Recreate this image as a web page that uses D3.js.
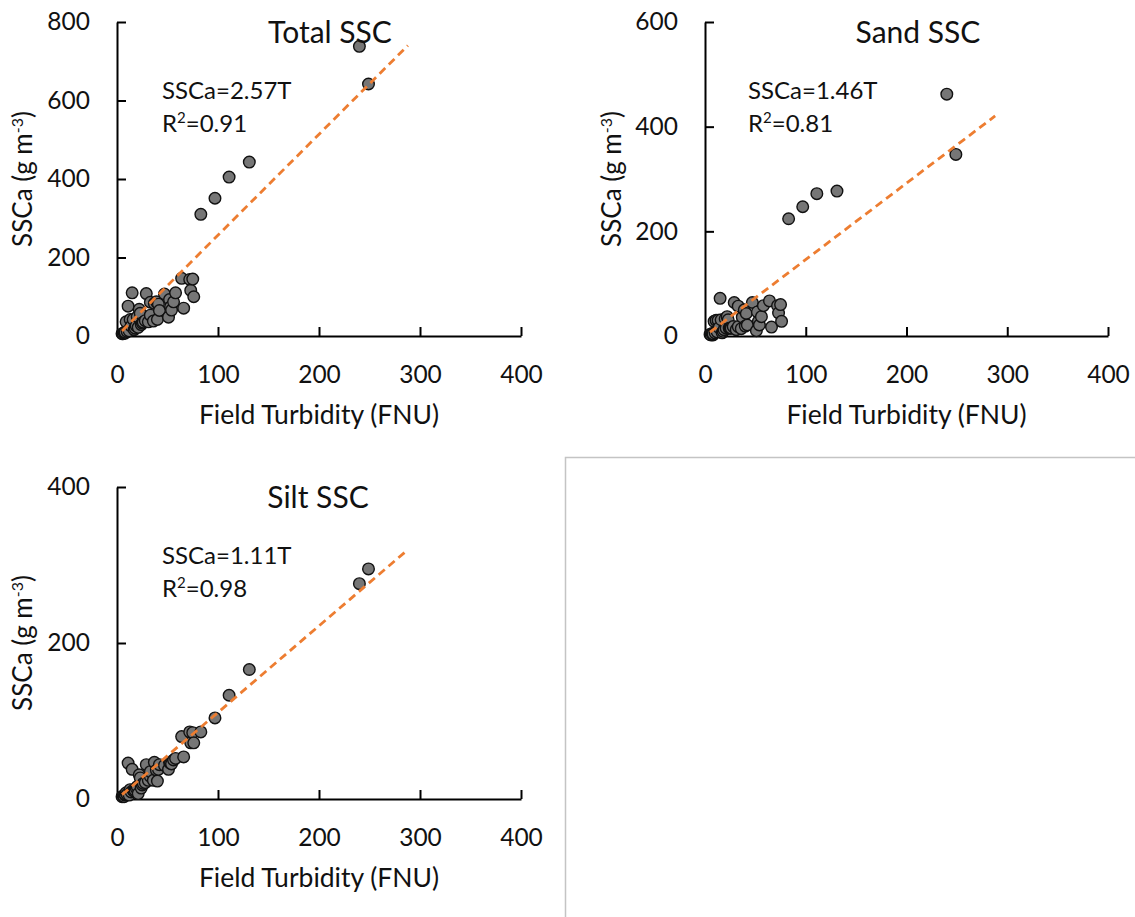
<!DOCTYPE html>
<html>
<head>
<meta charset="utf-8">
<script src="https://cdn.jsdelivr.net/npm/d3@7/dist/d3.min.js"></script>
<style>
  html, body { margin: 0; padding: 0; background: #fff; }
  svg { display: block; font-family: Lato, "Open Sans", sans-serif; }
</style>
</head>
<body>
<svg id="chart" width="1135" height="917"></svg>
<script>
// Field turbidity (FNU) for each sample, shared by all three panels
const turbidity = [5, 6, 7, 8, 8, 9, 10, 11, 12, 13, 14, 15, 16, 17, 18, 19, 20, 21, 22, 23,
  24, 25, 26, 28, 29, 31, 33, 33, 36, 37, 39, 40, 41, 42, 47, 51, 52, 53, 54, 56,
  58, 64, 66, 72, 73, 75, 76, 83, 97, 111, 131, 240, 249];

// Suspended sediment concentration (g m-3) per fraction
const totalSSC = [6, 6, 8, 7, 10, 36, 12, 76, 13, 42, 25, 110, 42, 16, 20, 26, 49, 22, 68, 58,
  29, 33, 35, 39, 108, 36, 86, 53, 38, 83, 87, 42, 81, 65, 107, 48, 93, 74, 66, 87,
  110, 147, 71, 144, 116, 145, 100, 310, 351, 405, 443, 738, 642];
const sandSSC = [3, 2, 5, 2, 4, 28, 6, 30, 8, 30, 16, 72, 31, 6, 9, 12, 33, 15, 37, 31,
  15, 15, 15, 18, 64, 12, 57, 18, 14, 36, 50, 19, 43, 21, 64, 10, 46, 28, 21, 37,
  58, 67, 17, 58, 44, 60, 28, 224, 247, 272, 277, 462, 347];
const siltSSC = [3, 4, 3, 5, 6, 8, 6, 46, 5, 12, 9, 38, 11, 10, 11, 14, 16, 7, 31, 27,
  14, 18, 20, 21, 44, 24, 29, 35, 24, 47, 37, 23, 38, 44, 43, 38, 47, 46, 45, 50,
  52, 80, 54, 86, 72, 85, 72, 86, 104, 133, 166, 276, 295];

// Panel titles, regression slopes and R² values
const panelTitles = ["Total SSC", "Sand SSC", "Silt SSC"];
const slopes = [2.57, 1.46, 1.11];
const r2Values = ["0.91", "0.81", "0.98"];

// Axis ticks
const xTicks = [0, 100, 200, 300, 400];
const yTicksTotal = [0, 200, 400, 600, 800];
const yTicksSand = [0, 200, 400, 600];
const yTicksSilt = [0, 200, 400];

// Turbidity span covered by the fitted line
const fitRange = [5, 288];

const series = [totalSSC, sandSSC, siltSSC];
const yTickSets = [yTicksTotal, yTicksSand, yTicksSilt];

// Plot-area geometry for each panel
const layout = [
  { x0: 117, y0: 22, w: 404, h: 314, titleX: 330, titleY: 43, noteX: 162, noteY: 99, yLabelX: 23 },
  { x0: 705, y0: 22, w: 403, h: 314, titleX: 918, titleY: 43, noteX: 748, noteY: 99, yLabelX: 612 },
  { x0: 117, y0: 487, w: 404, h: 312, titleX: 318, titleY: 508, noteX: 162, noteY: 564, yLabelX: 23 }
];

const textColor = "#111";
const svg = d3.select("#chart");

// Outline of the unused fourth cell
svg.append("path")
  .attr("d", "M565.5,917 V457.5 H1135")
  .attr("fill", "none")
  .attr("stroke", "#c4c4c4")
  .attr("stroke-width", 1.5);

series.forEach((values, i) => {
  const L = layout[i];
  const yTicks = yTickSets[i];
  const yMax = yTicks[yTicks.length - 1];

  const x = d3.scaleLinear().domain([0, 400]).range([L.x0, L.x0 + L.w]);
  const y = d3.scaleLinear().domain([0, yMax]).range([L.y0 + L.h, L.y0]);

  const g = svg.append("g");

  // Axes with inward ticks
  const xAxis = g.append("g")
    .attr("transform", `translate(0,${L.y0 + L.h})`)
    .call(d3.axisBottom(x).tickValues(xTicks).tickSizeInner(-9).tickSizeOuter(0).tickPadding(30));
  const yAxis = g.append("g")
    .attr("transform", `translate(${L.x0},0)`)
    .call(d3.axisLeft(y).tickValues(yTicks).tickSizeInner(-9).tickSizeOuter(0).tickPadding(27));

  [xAxis, yAxis].forEach(a => {
    a.select(".domain").attr("stroke", "#000").attr("stroke-width", 2);
    a.selectAll(".tick line").attr("stroke", "#000").attr("stroke-width", 2);
    a.selectAll(".tick text").attr("fill", textColor).attr("font-size", 24.5).attr("font-family", "Lato, sans-serif");
  });
  xAxis.selectAll(".tick").filter(d => d === 0).select("line").remove();
  yAxis.selectAll(".tick").filter(d => d === 0).select("line").remove();

  // Data points
  g.append("g").selectAll("circle")
    .data(turbidity.map((t, k) => ({ t, v: values[k] })))
    .join("circle")
    .attr("cx", d => x(d.t))
    .attr("cy", d => y(d.v))
    .attr("r", 5.8)
    .attr("fill", "#767676")
    .attr("stroke", "#111")
    .attr("stroke-width", 1.4);

  // Fitted line through the origin
  const line = d3.line().x(d => x(d)).y(d => y(slopes[i] * d));
  g.append("path")
    .datum(fitRange)
    .attr("d", line)
    .attr("fill", "none")
    .attr("stroke", "#ED7D31")
    .attr("stroke-width", 2.8)
    .attr("stroke-dasharray", "8,5");

  // Panel title
  g.append("text")
    .attr("x", L.titleX).attr("y", L.titleY)
    .attr("text-anchor", "middle")
    .attr("font-size", 30)
    .attr("fill", textColor)
    .text(panelTitles[i]);

  // Regression equation and R²
  g.append("text")
    .attr("x", L.noteX).attr("y", L.noteY)
    .attr("font-size", 24)
    .attr("fill", textColor)
    .text(`SSCa=${slopes[i].toFixed(2)}T`);
  const r2 = g.append("text")
    .attr("x", L.noteX).attr("y", L.noteY + 33)
    .attr("font-size", 24)
    .attr("fill", textColor);
  r2.append("tspan").text("R");
  r2.append("tspan").attr("font-size", 15).attr("dy", -9).text("2");
  r2.append("tspan").attr("dy", 9).text(`=${r2Values[i]}`);

  // Axis titles
  g.append("text")
    .attr("x", (L.x0 + L.x0 + L.w) / 2)
    .attr("y", L.y0 + L.h + 88)
    .attr("text-anchor", "middle")
    .attr("font-size", 26.5)
    .attr("fill", textColor)
    .text("Field Turbidity (FNU)");

  const yl = g.append("text")
    .attr("transform", `translate(${L.yLabelX + 9},${L.y0 + L.h / 2}) rotate(-90)`)
    .attr("text-anchor", "middle")
    .attr("font-size", 26)
    .attr("fill", textColor);
  yl.append("tspan").text("SSCa (g m");
  yl.append("tspan").attr("font-size", 16).attr("dy", -9).text("-3");
  yl.append("tspan").attr("dy", 9).text(")");
});
</script>
</body>
</html>
